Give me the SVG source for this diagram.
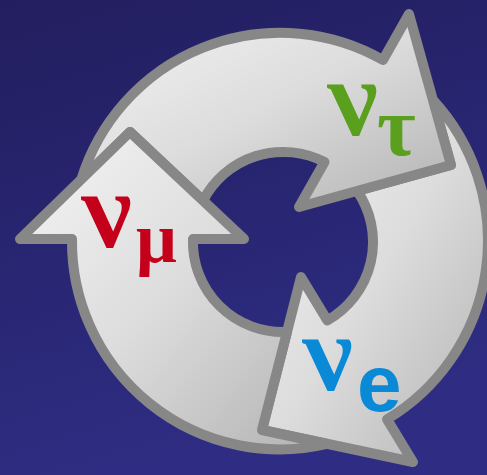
<svg xmlns="http://www.w3.org/2000/svg" width="487" height="475" viewBox="0 0 487 475">
  <defs>
    <linearGradient id="bg" x1="0" y1="0" x2="0.3" y2="1">
      <stop offset="0" stop-color="#221e5f"/>
      <stop offset="1" stop-color="#2e2d83"/>
    </linearGradient>
    <linearGradient id="metal" x1="0" y1="0" x2="1" y2="1">
      <stop offset="0" stop-color="#f5f5f5"/>
      <stop offset="0.5" stop-color="#dcdcdc"/>
      <stop offset="1" stop-color="#b2b2b2"/>
    </linearGradient>
  </defs>
  <style>
    .arrow { fill: url(#metal); stroke: #878787; stroke-width: 10; stroke-linejoin: round; }
    .nu { font-family: "Liberation Serif", "DejaVu Serif", serif; font-weight: bold; font-style: italic; font-size: 110px; }
    .sub { font-family: "Liberation Serif", "DejaVu Serif", serif; font-weight: bold; }
    .sans { font-family: "Liberation Sans", Arial, sans-serif; font-weight: bold; }
  </style>
  <rect width="487" height="475" fill="url(#bg)"/>
  <g id="connectors">
    <g id="arrow-e">
      <path class="arrow" d="M432.9,100 L451,165 L357.1,190.9 A90,90 0 0 1 327.3,320.4 L301,277 L262,430 L413,462 L387.1,419.3 A208,208 0 0 0 432.9,100 Z"/>
    </g>
    <g id="arrow-tau">
      <path class="arrow" d="M81.4,179.3 L130,132 L203.1,200.6 A90,90 0 0 1 324.5,162 L299,207 L451,165 L409,14 L383,60 A208,208 0 0 0 81.4,179.3 Z"/>
    </g>
    <g id="arrow-mu">
      <path class="arrow" d="M327,444 L262,430 L287,332 A90,90 0 0 1 193,239 L244,239 L130,132 L20,239 L72,239 A208,208 0 0 0 327,444 Z"/>
    </g>
  </g>
  <g id="node-nu-tau">
    <text class="nu" transform="translate(337,135) skewX(13)" fill="#5a9f1e">ν</text>
    <text class="sub" x="377" y="155" font-size="84" fill="#5a9f1e">τ</text>
  </g>
  <g id="node-nu-mu">
    <text class="nu" transform="translate(91,247) skewX(13)" fill="#c4001a">ν</text>
    <text class="sub" x="136" y="262" font-size="72" fill="#c4001a">μ</text>
  </g>
  <g id="node-nu-e">
    <text class="nu" transform="translate(312,390) skewX(13)" fill="#0a8ad6">ν</text>
    <text class="sans" x="357" y="411" font-size="80" fill="#0a8ad6">e</text>
  </g>
</svg>
